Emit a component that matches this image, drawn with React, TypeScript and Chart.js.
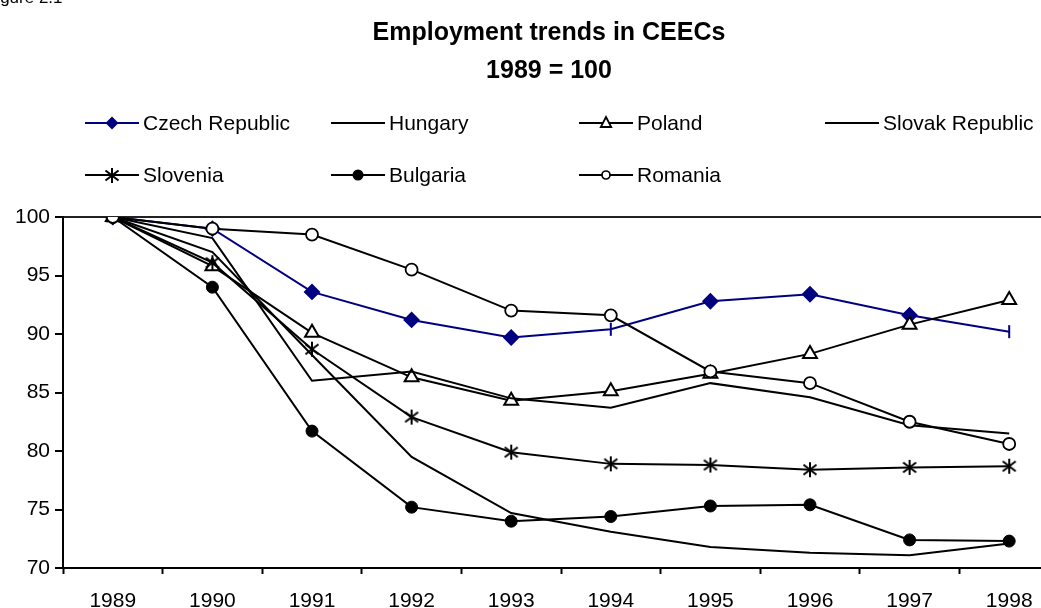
import { useEffect, useRef } from 'react';
import { Chart, registerables } from 'chart.js';

Chart.register(...registerables);

const years = ['1989', '1990', '1991', '1992', '1993', '1994', '1995', '1996', '1997', '1998'];
const czech = [100, 99.0, 93.6, 91.2, 89.7, 90.4, 92.8, 93.4, 91.6, 90.2];
const hungary = [100, 97.0, 88.2, 79.5, 74.7, 73.1, 71.8, 71.3, 71.1, 72.1];
const poland = [100, 95.8, 90.1, 86.3, 84.3, 85.1, 86.6, 88.3, 90.8, 92.9];
const slovak = [100, 98.2, 86.0, 86.8, 84.5, 83.7, 85.8, 84.6, 82.2, 81.5];
const slovenia = [100, 96.1, 88.7, 82.9, 79.9, 78.9, 78.8, 78.4, 78.6, 78.7];
const bulgaria = [100, 94.0, 81.7, 75.2, 74.0, 74.4, 75.3, 75.4, 72.4, 72.3];
const romania = [100, 99.0, 98.5, 95.5, 92.0, 91.6, 86.8, 85.8, 82.5, 80.6];
const yTicks = [70, 75, 80, 85, 90, 95, 100];
const titleLines = ['Employment trends in CEECs', '1989 = 100'];
const figureLabel = 'Figure 2.1';

const NAVY = '#000080';
const FONT = '"Liberation Sans", Arial, sans-serif';
const W = 1080;
const H = 608;

type Marker = 'diamond' | 'none' | 'triangle' | 'star' | 'dot' | 'ring';

function makeStar(): HTMLCanvasElement {
  const c = document.createElement('canvas');
  c.width = 16;
  c.height = 17;
  const g = c.getContext('2d')!;
  g.strokeStyle = '#000';
  g.lineWidth = 2;
  g.beginPath();
  g.moveTo(8, 1);
  g.lineTo(8, 16);
  g.moveTo(1.5, 3.5);
  g.lineTo(14.5, 13.5);
  g.moveTo(14.5, 3.5);
  g.lineTo(1.5, 13.5);
  g.stroke();
  return c;
}

function drawLegendMarker(ctx: CanvasRenderingContext2D, m: Marker, x: number, y: number, star: HTMLCanvasElement) {
  ctx.save();
  if (m === 'diamond') {
    ctx.fillStyle = NAVY;
    ctx.beginPath();
    ctx.moveTo(x - 6.5, y);
    ctx.lineTo(x, y - 6.5);
    ctx.lineTo(x + 6.5, y);
    ctx.lineTo(x, y + 6.5);
    ctx.closePath();
    ctx.fill();
  } else if (m === 'triangle') {
    const r = 6;
    ctx.fillStyle = '#fff';
    ctx.strokeStyle = '#000';
    ctx.lineWidth = 1.8;
    ctx.beginPath();
    ctx.moveTo(x, y - r);
    ctx.lineTo(x + r * 0.866, y + r * 0.5 + 1);
    ctx.lineTo(x - r * 0.866, y + r * 0.5 + 1);
    ctx.closePath();
    ctx.fill();
    ctx.stroke();
  } else if (m === 'star') {
    ctx.drawImage(star, Math.round(x - 8), Math.round(y - 8.5));
  } else if (m === 'dot') {
    ctx.fillStyle = '#000';
    ctx.beginPath();
    ctx.arc(x, y, 5.5, 0, Math.PI * 2);
    ctx.fill();
  } else if (m === 'ring') {
    ctx.fillStyle = '#fff';
    ctx.strokeStyle = '#000';
    ctx.lineWidth = 1.7;
    ctx.beginPath();
    ctx.arc(x, y, 4, 0, Math.PI * 2);
    ctx.fill();
    ctx.stroke();
  }
  ctx.restore();
}

export default function App() {
  const ref = useRef<HTMLCanvasElement>(null);

  useEffect(() => {
    const canvas = ref.current;
    if (!canvas) return;
    const star = makeStar();
    const markers: Marker[] = ['diamond', 'none', 'triangle', 'none', 'star', 'dot', 'ring'];
    const legendCols = [85, 331, 579, 825];
    const legendRows = [123, 175];

    const overlay = {
      id: 'overlay',
      afterDraw(chart: any) {
        const ctx: CanvasRenderingContext2D = chart.ctx;
        ctx.save();
        ctx.fillStyle = '#000';
        ctx.font = `17px ${FONT}`;
        ctx.textAlign = 'left';
        ctx.textBaseline = 'alphabetic';
        ctx.fillText(figureLabel, -14, 3);
        ctx.font = `bold 25px ${FONT}`;
        ctx.textAlign = 'center';
        ctx.textBaseline = 'middle';
        ctx.fillText(titleLines[0], 549, 33);
        ctx.fillText(titleLines[1], 549, 71);
        ctx.font = `21px ${FONT}`;
        ctx.textAlign = 'left';
        chart.data.datasets.forEach((ds: any, i: number) => {
          const x0 = legendCols[i % 4];
          const y = legendRows[Math.floor(i / 4)];
          ctx.strokeStyle = ds.borderColor;
          ctx.lineWidth = 2;
          ctx.beginPath();
          ctx.moveTo(x0, y);
          ctx.lineTo(x0 + 54, y);
          ctx.stroke();
          drawLegendMarker(ctx, markers[i], x0 + 27, y, star);
          ctx.fillStyle = '#000';
          ctx.fillText(ds.label, x0 + 58, y + 1);
        });
        ctx.restore();
      },
    };

    const czechStyles = czech.map((_, i) => (i === 5 || i === 9 ? 'line' : 'rectRot'));
    const czechRot = czech.map((_, i) => (i === 5 || i === 9 ? 90 : 0));
    const czechRad = czech.map((_, i) => (i === 5 || i === 9 ? 6.5 : 7));

    const base = { borderWidth: 2, tension: 0, fill: false };

    const chart = new Chart(canvas, {
      type: 'line',
      data: {
        labels: years,
        datasets: [
          {
            ...base,
            label: 'Czech Republic',
            data: czech,
            borderColor: NAVY,
            backgroundColor: NAVY,
            pointStyle: czechStyles as any,
            pointRotation: czechRot as any,
            pointRadius: czechRad as any,
            pointBackgroundColor: NAVY,
            pointBorderColor: NAVY,
            pointBorderWidth: 2,
            order: 10,
          },
          {
            ...base,
            label: 'Hungary',
            data: hungary,
            borderColor: '#000',
            pointRadius: 0,
            order: 9,
          },
          {
            ...base,
            label: 'Poland',
            data: poland,
            borderColor: '#000',
            pointStyle: 'triangle',
            pointRadius: 8,
            pointBackgroundColor: '#fff',
            pointBorderColor: '#000',
            pointBorderWidth: 2,
            order: 8,
          },
          {
            ...base,
            label: 'Slovak Republic',
            data: slovak,
            borderColor: '#000',
            pointRadius: 0,
            order: 7,
          },
          {
            ...base,
            label: 'Slovenia',
            data: slovenia,
            borderColor: '#000',
            pointStyle: star as any,
            pointRadius: 8,
            order: 6,
          },
          {
            ...base,
            label: 'Bulgaria',
            data: bulgaria,
            borderColor: '#000',
            pointStyle: 'circle',
            pointRadius: 6,
            pointBackgroundColor: '#000',
            pointBorderColor: '#000',
            pointBorderWidth: 1,
            order: 5,
          },
          {
            ...base,
            label: 'Romania',
            data: romania,
            borderColor: '#000',
            pointStyle: 'circle',
            pointRadius: 6,
            pointBackgroundColor: '#fff',
            pointBorderColor: '#000',
            pointBorderWidth: 1.8,
            order: 4,
          },
        ],
      },
      options: {
        responsive: false,
        animation: false,
        devicePixelRatio: 1,
        layout: { padding: { top: 217, right: W - 1059, left: 0, bottom: 0 } },
        plugins: {
          legend: { display: false },
          title: { display: false },
          tooltip: { enabled: false },
        },
        scales: {
          x: {
            type: 'category',
            offset: true,
            grid: {
              offset: true,
              drawOnChartArea: false,
              drawTicks: true,
              tickLength: 6,
              tickColor: '#000',
              tickWidth: 2,
            },
            border: { color: '#000', width: 2 },
            ticks: {
              color: '#000',
              font: { family: FONT, size: 21 },
              padding: 15,
              maxRotation: 0,
              autoSkip: false,
            },
            afterFit(scale: any) {
              scale.height = H - 568;
            },
          },
          y: {
            min: 70,
            max: 100,
            afterBuildTicks(scale: any) {
              scale.ticks = yTicks.map((v) => ({ value: v }));
            },
            grid: {
              color: (c: any) => (c.tick && c.tick.value === 100 ? '#222' : 'rgba(0,0,0,0)'),
              lineWidth: 2,
              drawTicks: true,
              tickLength: 8,
              tickColor: '#000',
              tickWidth: 2,
            },
            border: { color: '#000', width: 2 },
            ticks: {
              color: '#000',
              font: { family: FONT, size: 21 },
              padding: 5,
            },
            afterFit(scale: any) {
              scale.width = 63;
            },
          },
        },
      },
      plugins: [overlay],
    });

    return () => chart.destroy();
  }, []);

  return (
    <div
      style={{
        position: 'fixed',
        left: 0,
        top: 0,
        width: 1041,
        height: 608,
        overflow: 'hidden',
        background: '#fff',
      }}
    >
      <canvas ref={ref} width={W} height={H} style={{ display: 'block', width: W, height: H }} />
    </div>
  );
}
